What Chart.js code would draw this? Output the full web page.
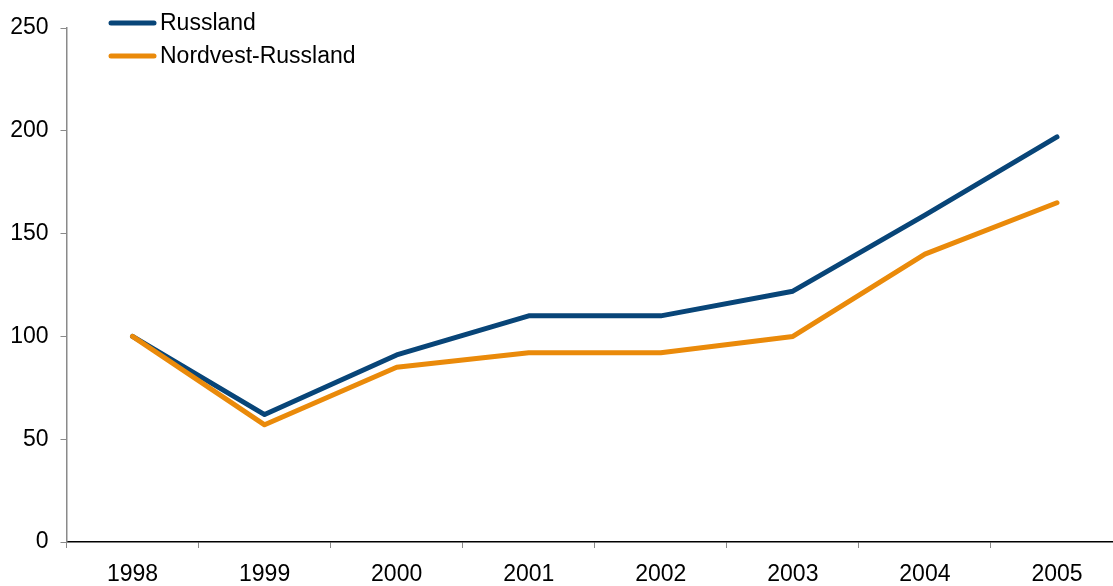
<!DOCTYPE html>
<html>
<head>
<meta charset="utf-8">
<script src="https://cdn.jsdelivr.net/npm/chart.js@4/dist/chart.umd.min.js"></script>
<style>
  html, body { margin: 0; padding: 0; background: #fff; overflow: hidden; }
  #wrap { position: absolute; left: 0; top: 0; width: 1123px; height: 586px; }
</style>
</head>
<body>
<div id="wrap"><canvas id="indexChart" width="1123" height="586"></canvas></div>
<script>
const years = ["1998", "1999", "2000", "2001", "2002", "2003", "2004", "2005"];
const russland = [100, 62, 91, 110, 110, 122, 159, 197];
const nordvest = [100, 57, 85, 92, 92, 100, 140, 165];

const NAVY = "rgb(8, 69, 120)";
const ORANGE = "rgb(234, 138, 10)";
const FONT = "'Liberation Sans', Arial, sans-serif";

// legend drawn inside the plot, top left
const insideLegend = {
  id: "insideLegend",
  afterDraw(chart) {
    const ctx = chart.ctx;
    const rows = [
      { label: chart.data.datasets[0].label, color: chart.data.datasets[0].borderColor, y: 23 },
      { label: chart.data.datasets[1].label, color: chart.data.datasets[1].borderColor, y: 56 },
    ];
    ctx.save();
    ctx.lineWidth = 5;
    ctx.lineCap = "round";
    ctx.font = "23px " + FONT;
    ctx.textBaseline = "middle";
    ctx.fillStyle = "#000";
    rows.forEach((r) => {
      ctx.strokeStyle = r.color;
      ctx.beginPath();
      ctx.moveTo(111, r.y);
      ctx.lineTo(154, r.y);
      ctx.stroke();
      ctx.fillText(r.label, 160, r.y + 1);
    });
    ctx.restore();
  },
};

new Chart(document.getElementById("indexChart"), {
  type: "line",
  data: {
    labels: years,
    datasets: [
      {
        label: "Russland",
        data: russland,
        borderColor: NAVY,
        borderWidth: 5,
        pointRadius: 0,
        tension: 0,
        borderCapStyle: "round",
        borderJoinStyle: "round",
        order: 1,
      },
      {
        label: "Nordvest-Russland",
        data: nordvest,
        borderColor: ORANGE,
        borderWidth: 5,
        pointRadius: 0,
        tension: 0,
        borderCapStyle: "round",
        borderJoinStyle: "round",
        order: 0,
      },
    ],
  },
  options: {
    responsive: false,
    animation: false,
    layout: { padding: { top: 28, right: 0, bottom: 0, left: 0 } },
    plugins: {
      legend: { display: false },
      tooltip: { enabled: false },
    },
    scales: {
      x: {
        offset: true,
        grid: {
          offset: true,
          drawOnChartArea: false,
          drawTicks: true,
          tickLength: 6,
          color: "#8a8a8a",
        },
        border: { color: "#000", width: 1.5 },
        ticks: {
          color: "#000",
          font: { family: FONT, size: 23 },
          padding: 13,
          maxRotation: 0,
        },
        afterFit(scale) { scale.height = 44; },
      },
      y: {
        min: 0,
        max: 250,
        grid: {
          drawOnChartArea: false,
          drawTicks: true,
          tickLength: 6,
          color: "#8a8a8a",
        },
        border: { color: "#8a8a8a", width: 1.5 },
        ticks: {
          stepSize: 50,
          color: "#000",
          font: { family: FONT, size: 23 },
          padding: 12,
        },
        afterFit(scale) { scale.width = 66.5; },
      },
    },
  },
  plugins: [insideLegend],
});
</script>
</body>
</html>
